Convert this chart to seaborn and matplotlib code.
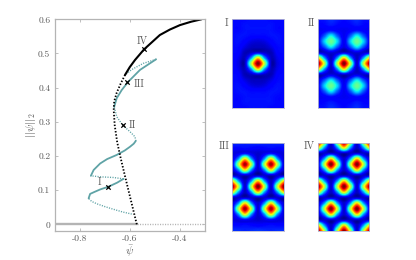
import matplotlib.pyplot as plt
import numpy as np
import pandas as pd
import seaborn as sns

plt.switch_backend("Agg")

sns.set_style("ticks")
plt.rcParams["font.family"] = ["cmr10", "DejaVu Serif"]
plt.rcParams["mathtext.fontset"] = "cm"
plt.rcParams["axes.unicode_minus"] = False
plt.rcParams["axes.formatter.use_mathtext"] = True

TEAL = "#5fa3a6"
GREY = "#b4b4b4"
TEXT = "#5a5a5a"

# --- branch data (psi, norm) ---
snake_dot_1_x = [-0.592, -0.628, -0.665, -0.700, -0.731, -0.752, -0.764]
snake_dot_1_y = [0.030, 0.036, 0.044, 0.052, 0.060, 0.067, 0.076]
snake_sol_1_x = [-0.764, -0.758, -0.740, -0.718, -0.685, -0.650, -0.625]
snake_sol_1_y = [0.076, 0.089, 0.095, 0.102, 0.110, 0.122, 0.133]
snake_dot_2_x = [-0.625, -0.665, -0.718, -0.755]
snake_dot_2_y = [0.133, 0.137, 0.139, 0.142]
snake_sol_2_x = [-0.755, -0.744, -0.718, -0.690, -0.652, -0.620, -0.599, -0.584, -0.576]
snake_sol_2_y = [0.142, 0.159, 0.178, 0.191, 0.203, 0.216, 0.227, 0.236, 0.244]
snake_dot_3_x = [-0.576, -0.579, -0.599, -0.628, -0.652, -0.662]
snake_dot_3_y = [0.244, 0.256, 0.271, 0.290, 0.315, 0.344]
snake_sol_3_x = [-0.662, -0.652, -0.632, -0.605, -0.559, -0.495]
snake_sol_3_y = [0.344, 0.369, 0.393, 0.418, 0.452, 0.483]
snake_dot_4_x = [-0.495, -0.546, -0.592, -0.619]
snake_dot_4_y = [0.483, 0.471, 0.453, 0.437]

spots_dot_x = [-0.572, -0.592, -0.612, -0.635, -0.650, -0.660, -0.664, -0.662, -0.652, -0.636, -0.619]
spots_dot_y = [0.000, 0.060, 0.120, 0.190, 0.240, 0.290, 0.335, 0.360, 0.385, 0.412, 0.437]
spots_sol_x = [-0.619, -0.600, -0.579, -0.543, -0.480, -0.440, -0.400, -0.355, -0.314]
spots_sol_y = [0.437, 0.460, 0.481, 0.512, 0.554, 0.570, 0.583, 0.593, 0.600]

flat_sol_x = [-0.90, -0.572]
flat_dot_x = [-0.572, -0.30]
flat_y = [0.0, 0.0]

mark_x = [-0.685, -0.628, -0.611, -0.542]
mark_y = [0.110, 0.290, 0.417, 0.512]
mark_names = ["I", "II", "III", "IV"]
mark_label_x = [-0.722, -0.590, -0.563, -0.552]
mark_label_y = [0.122, 0.290, 0.410, 0.535]

x_ticks = [-0.8, -0.6, -0.4]
x_tick_labels = ["-0.8", "-0.6", "-0.4"]
y_ticks = [0, 0.1, 0.2, 0.3, 0.4, 0.5, 0.6]
y_tick_labels = ["0", "0.1", "0.2", "0.3", "0.4", "0.5", "0.6"]

# --- field values on a coarse grid, top half of each panel (mirrored below) ---
panel_i_top = [
    [.13, .13, .13, .14, .14, .14, .13, .13, .13],
    [.13, .13, .14, .14, .14, .14, .14, .13, .13],
    [.13, .13, .14, .14, .14, .14, .14, .13, .13],
    [.13, .14, .14, .13, .13, .13, .14, .14, .13],
    [.13, .14, .12, .09, .08, .09, .12, .14, .13],
    [.13, .13, .09, .06, .06, .06, .09, .13, .13],
    [.13, .12, .05, .06, .08, .06, .05, .12, .13],
    [.13, .10, .06, .28, .68, .28, .06, .10, .13],
    [.13, .09, .06, .58, 1.0, .58, .06, .09, .13],
]
panel_ii_top = [
    [.14, .14, .17, .15, .13, .15, .17, .14, .14],
    [.12, .13, .15, .13, .12, .13, .15, .13, .12],
    [.10, .11, .13, .11, .10, .11, .13, .11, .10],
    [.10, .21, .36, .21, .10, .21, .36, .21, .10],
    [.10, .33, .48, .33, .10, .33, .48, .33, .10],
    [.09, .21, .36, .21, .09, .21, .36, .21, .09],
    [.07, .07, .09, .07, .07, .07, .09, .07, .07],
    [.68, .28, .06, .28, .68, .28, .06, .28, .68],
    [1.0, .58, .07, .58, 1.0, .58, .07, .58, 1.0],
]
panel_iii_top = [
    [.17, .17, .16, .17, .18, .17, .16, .17, .17],
    [.13, .13, .14, .13, .12, .13, .14, .13, .13],
    [.08, .09, .12, .09, .07, .09, .12, .09, .08],
    [.07, .27, .66, .27, .07, .27, .66, .27, .07],
    [.07, .56, .97, .56, .07, .56, .97, .56, .07],
    [.07, .27, .66, .27, .07, .27, .66, .27, .07],
    [.06, .07, .07, .07, .06, .07, .07, .07, .06],
    [.68, .28, .06, .28, .68, .28, .06, .28, .68],
    [1.0, .58, .07, .58, 1.0, .58, .07, .58, 1.0],
]
panel_iv_top = [
    [1.0, .58, .07, .58, 1.0, .58, .07, .58, 1.0],
    [.68, .28, .06, .28, .68, .28, .06, .28, .68],
    [.06, .07, .07, .07, .06, .07, .07, .07, .06],
    [.07, .28, .68, .28, .07, .28, .68, .28, .07],
    [.07, .58, 1.0, .58, .07, .58, 1.0, .58, .07],
    [.07, .28, .68, .28, .07, .28, .68, .28, .07],
    [.06, .07, .07, .07, .06, .07, .07, .07, .06],
    [.68, .28, .06, .28, .68, .28, .06, .28, .68],
    [1.0, .58, .07, .58, 1.0, .58, .07, .58, 1.0],
]


def draw_line(ax, xs, ys, color, dotted=False, lw=1.3):
    df = pd.DataFrame({"psi": xs, "norm": ys})
    sns.lineplot(data=df, x="psi", y="norm", ax=ax, sort=False, estimator=None,
                 color=color, lw=lw, linestyle=(0, (0.8, 1.0)) if dotted else "-")


W, H = 416, 260
fig = plt.figure(figsize=(W / 100, H / 100), dpi=100)


def px_axes(left, top, right, bottom):
    return fig.add_axes([left / W, 1 - bottom / H, (right - left) / W, (bottom - top) / H])


ax = px_axes(54.5, 19.3, 205, 230.7)

# flat state along zero
draw_line(ax, flat_sol_x, flat_y, GREY, lw=1.7)
draw_line(ax, flat_dot_x, flat_y, GREY, dotted=True, lw=1.0)

# snaking branch
for xs, ys in [(snake_sol_1_x, snake_sol_1_y), (snake_sol_2_x, snake_sol_2_y), (snake_sol_3_x, snake_sol_3_y)]:
    draw_line(ax, xs, ys, TEAL)
for xs, ys in [(snake_dot_1_x, snake_dot_1_y), (snake_dot_2_x, snake_dot_2_y),
               (snake_dot_3_x, snake_dot_3_y), (snake_dot_4_x, snake_dot_4_y)]:
    draw_line(ax, xs, ys, TEAL, dotted=True, lw=1.0)

# periodic branch
draw_line(ax, spots_dot_x, spots_dot_y, "black", dotted=True, lw=1.3)
draw_line(ax, spots_sol_x, spots_sol_y, "black", lw=1.5)

sns.scatterplot(x=mark_x, y=mark_y, ax=ax, marker="x", color="black", s=10, linewidth=0.9, zorder=5)
for name, lx, ly in zip(mark_names, mark_label_x, mark_label_y):
    ax.text(lx, ly, name, fontsize=7.2, color=TEXT, ha="center", va="center")

ax.set_xlim(-0.9, -0.3)
ax.set_ylim(-0.0187, 0.6)
ax.set_xticks(x_ticks)
ax.set_xticklabels(x_tick_labels)
ax.set_yticks(y_ticks)
ax.set_yticklabels(y_tick_labels)
ax.tick_params(direction="in", top=True, right=True, length=2, width=0.6, color=GREY,
               labelcolor=TEXT, labelsize=6.9, pad=3)
for spine in ax.spines.values():
    spine.set_color(GREY)
    spine.set_linewidth(0.9)
ax.set_xlabel(r"$\bar{\psi}$", fontsize=8, color=TEXT, labelpad=0)
ax.set_ylabel(r"$||\psi||_2$", fontsize=8, color=TEXT, labelpad=0)

# --- solution panels ---
panels = [
    (panel_i_top, "I", 232.3, 19.3, 227),
    (panel_ii_top, "II", 318, 19.3, 311),
    (panel_iii_top, "III", 232.3, 142.7, 224),
    (panel_iv_top, "IV", 318, 142.7, 309),
]
for top_half, name, left, top, label_x in panels:
    pax = px_axes(left, top, left + 51.3, top + 88.5)
    field = np.vstack([top_half, top_half[-2::-1]])
    pax.imshow(field, cmap="jet", vmin=0, vmax=1, interpolation="catrom", aspect="auto")
    pax.set_xlim(0, 8)
    pax.set_ylim(16, 0)
    pax.set_xticks([])
    pax.set_yticks([])
    for spine in pax.spines.values():
        spine.set_color("#b9b9d0")
        spine.set_linewidth(0.6)
    fig.text(label_x / W, 1 - (top + 3.5) / H, name, fontsize=7.2, color=TEXT, ha="center", va="center")

fig.savefig("out.png", dpi=100)
plt.close(fig)
